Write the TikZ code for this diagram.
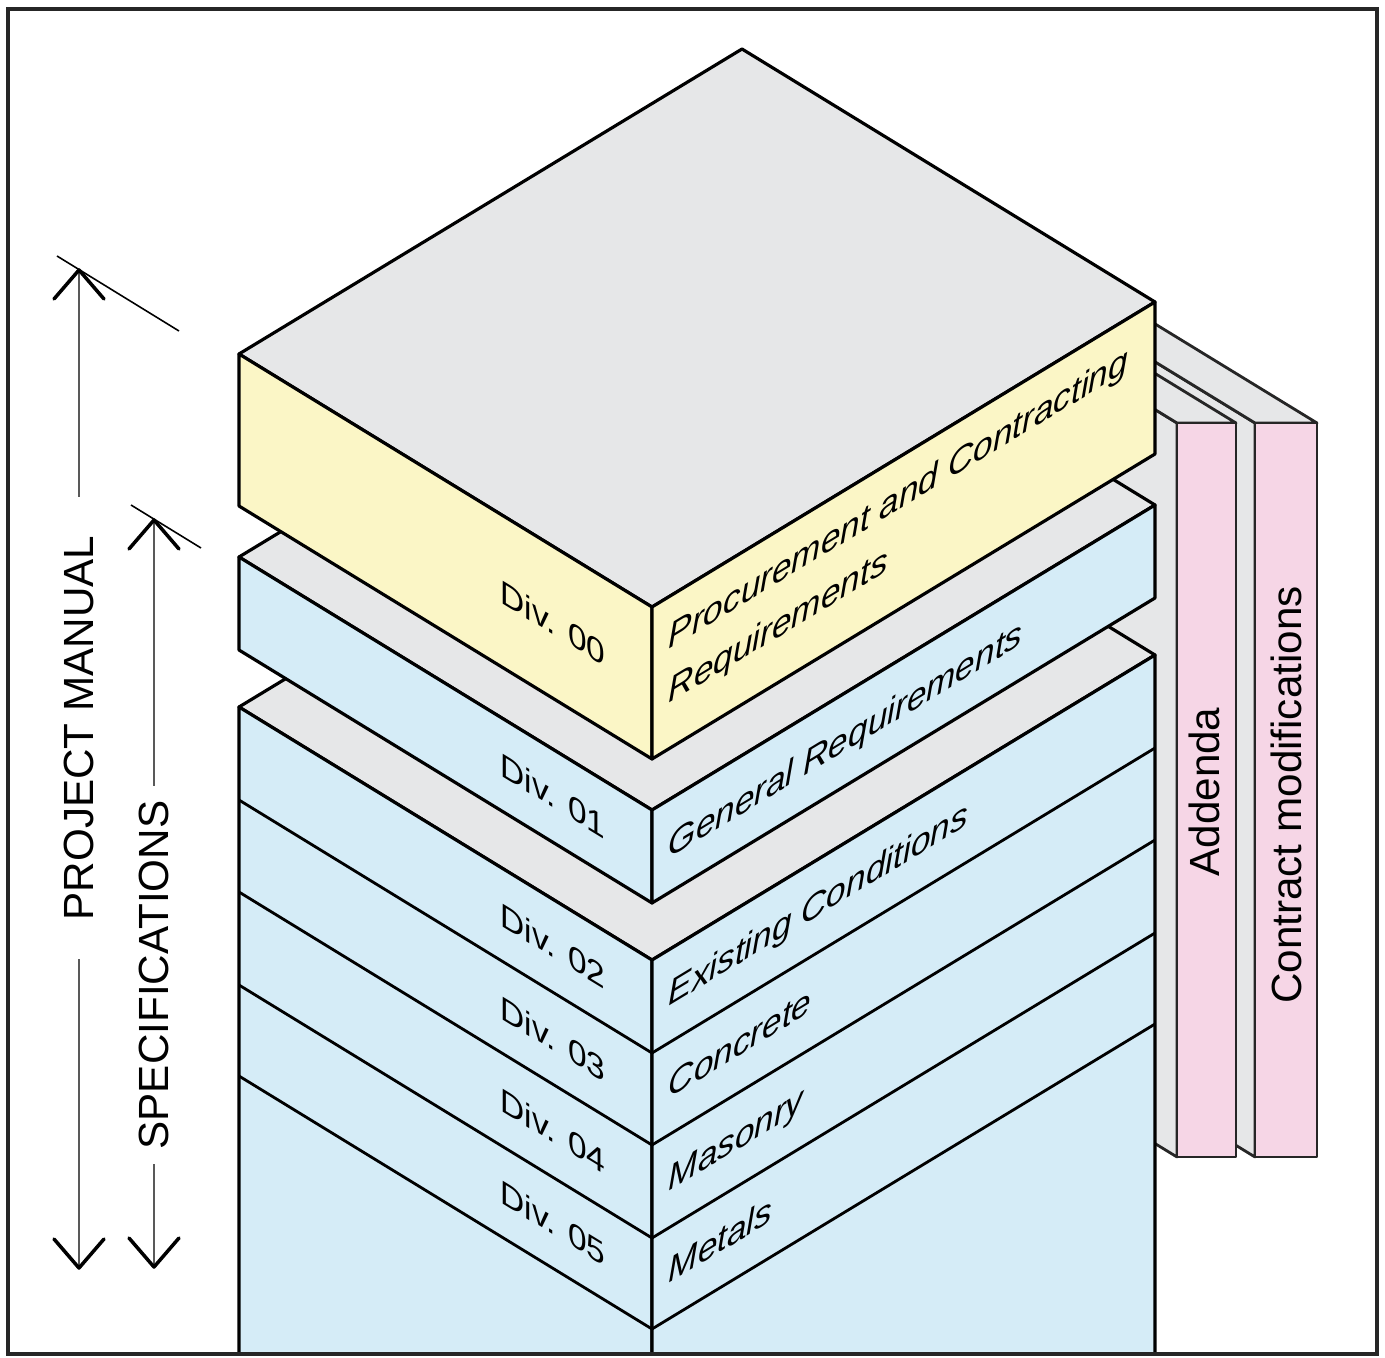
\documentclass[tikz,border=0pt]{standalone}
\usepackage{fontspec}
\setmainfont{Liberation Sans}
\usetikzlibrary{calc}
\definecolor{topgrey}{RGB}{230,231,232}
\definecolor{facey}{RGB}{251,246,198}
\definecolor{faceb}{RGB}{213,236,247}
\definecolor{facep}{RGB}{246,214,230}

% isometric directions (pixel units, y pointing down)
\def\ux{413}\def\uy{253}
\def\vx{503}\def\vy{-305}

% a block: top face grey, two side faces coloured
\newcommand{\drawblock}[5]{% prefix, left x, left y, height, colour
  \coordinate (#1L) at (#2,#3);
  \coordinate (#1F) at ($(#1L)+(\ux,\uy)$);
  \coordinate (#1R) at ($(#1F)+(\vx,\vy)$);
  \coordinate (#1T) at ($(#1L)+(\vx,\vy)$);
  \coordinate (#1Lb) at ($(#1L)+(0,#4)$);
  \coordinate (#1Fb) at ($(#1F)+(0,#4)$);
  \coordinate (#1Rb) at ($(#1R)+(0,#4)$);
  \filldraw[edge, fill=topgrey] (#1L) -- (#1T) -- (#1R) -- (#1F) -- cycle;
  \filldraw[edge, fill=#5] (#1L) -- (#1F) -- (#1Fb) -- (#1Lb) -- cycle;
  \filldraw[edge, fill=#5] (#1F) -- (#1R) -- (#1Rb) -- (#1Fb) -- cycle;
}

% a thin upright board: pink front, grey side and top running back
\newcommand{\drawpanel}[5]{% prefix, x left, x right, y top, y bottom
  \coordinate (#1A) at (#2,#4);
  \coordinate (#1B) at (#3,#4);
  \coordinate (#1C) at (#3,#5);
  \coordinate (#1D) at (#2,#5);
  \filldraw[paneledge, fill=topgrey] (#1A) -- ($(#1A)+(-206,-126)$) -- ($(#1D)+(-206,-126)$) -- (#1D) -- cycle;
  \filldraw[paneledge, fill=topgrey] (#1A) -- (#1B) -- ($(#1B)+(-206,-126)$) -- ($(#1A)+(-206,-126)$) -- cycle;
  \filldraw[paneledge, fill=facep] (#1A) -- (#1B) -- (#1C) -- (#1D) -- cycle;
}

\begin{document}
\begin{tikzpicture}[x=0.01cm, y=-0.01cm,
  edge/.style={line width=0.9pt, line join=round, draw=black},
  paneledge/.style={line width=0.8pt, line join=round, draw=black!85},
  sepline/.style={line width=0.8pt, draw=black},
  divlabel/.style={font=\fontsize{9.5}{11}\selectfont, yslant=-0.6126, anchor=base east, inner sep=0pt},
  facelabel/.style={font=\fontsize{10}{15.5}\selectfont\itshape, yslant=0.6064, anchor=base west, inner sep=0pt, align=left},
  boardlabel/.style={font=\fontsize{12}{14}\selectfont, rotate=90, inner sep=0pt},
  dimtext/.style={font=\fontsize{12}{14}\selectfont, rotate=90, inner xsep=0.38cm, inner ysep=0pt},
  dimline/.style={line width=0.6pt, draw=black!65},
  dimhead/.style={line width=1pt, draw=black, line cap=round, line join=round},
  witness/.style={line width=0.45pt, draw=black}]

\useasboundingbox (0,0) rectangle (1385,1358);

% boards standing behind the stack
\drawpanel{cm}{1255}{1317}{423}{1157}
\drawpanel{ad}{1177}{1236}{423}{1157}

% the stack, cut off by the frame at the bottom
\begin{scope}
  \clip (0,0) rectangle (1385,1354);
  \drawblock{d2}{239}{707}{700}{faceb}
  \foreach \k in {93,185,278,369} {
    \draw[sepline] ($(d2L)+(0,\k)$) -- ($(d2F)+(0,\k)$) -- ($(d2R)+(0,\k)$);
  }
\end{scope}
\drawblock{d1}{239}{557}{93}{faceb}
\drawblock{d0}{239}{354}{152}{facey}

% division numbers on the left faces
\node[divlabel] (n00) at (606,667) {Div. 00};
\node[divlabel] (n01) at (606,840) {Div. 01};
\node[divlabel] (n02) at (606,990) {Div. 02};
\node[divlabel] (n03) at (606,1083) {Div. 03};
\node[divlabel] (n04) at (606,1175) {Div. 04};
\node[divlabel] (n05) at (606,1267) {Div. 05};

% division titles on the right faces
\node[facelabel, anchor=west] (t00) at (668,668) {Procurement and Contracting\\Requirements};
\node[facelabel] (t01) at (668,859) {General Requirements};
\node[facelabel] (t02) at (668,1007) {Existing Conditions};
\node[facelabel] (t03) at (668,1099) {Concrete};
\node[facelabel] (t04) at (668,1192) {Masonry};
\node[facelabel] (t05) at (668,1284) {Metals};

% board titles
\node[boardlabel] (tad) at (1204,792) {Addenda};
\node[boardlabel] (tcm) at (1286,795) {Contract modifications};

% extent arrows
\coordinate (pmtop) at (79,270);
\coordinate (pmbot) at (79,1268);
\coordinate (sptop) at (154,520);
\coordinate (spbot) at (154,1267);
\node[dimtext] (pm) at (79,728) {PROJECT MANUAL};
\node[dimtext, inner xsep=0.14cm] (sp) at (154,975) {SPECIFICATIONS};
\draw[dimline] (pmtop) -- (pm.east);
\draw[dimline] (pm.west) -- (pmbot);
\draw[dimline] (sptop) -- (sp.east);
\draw[dimline] (sp.west) -- (spbot);
\foreach \p in {pmtop,sptop} {
  \draw[dimhead] ($(\p)+(-25,29)$) -- (\p) -- ($(\p)+(25,29)$);
}
\foreach \p in {pmbot,spbot} {
  \draw[dimhead] ($(\p)+(-25,-29)$) -- (\p) -- ($(\p)+(25,-29)$);
}
\draw[witness] ($(pmtop)+(-22,-14)$) -- ($(pmtop)+(100,61)$);
\draw[witness] ($(sptop)+(-23,-15)$) -- ($(sptop)+(47,28)$);

% frame
\draw[line width=0.9pt, draw=black!85] (8,9) rectangle (1377,1354);
\end{tikzpicture}
\end{document}
